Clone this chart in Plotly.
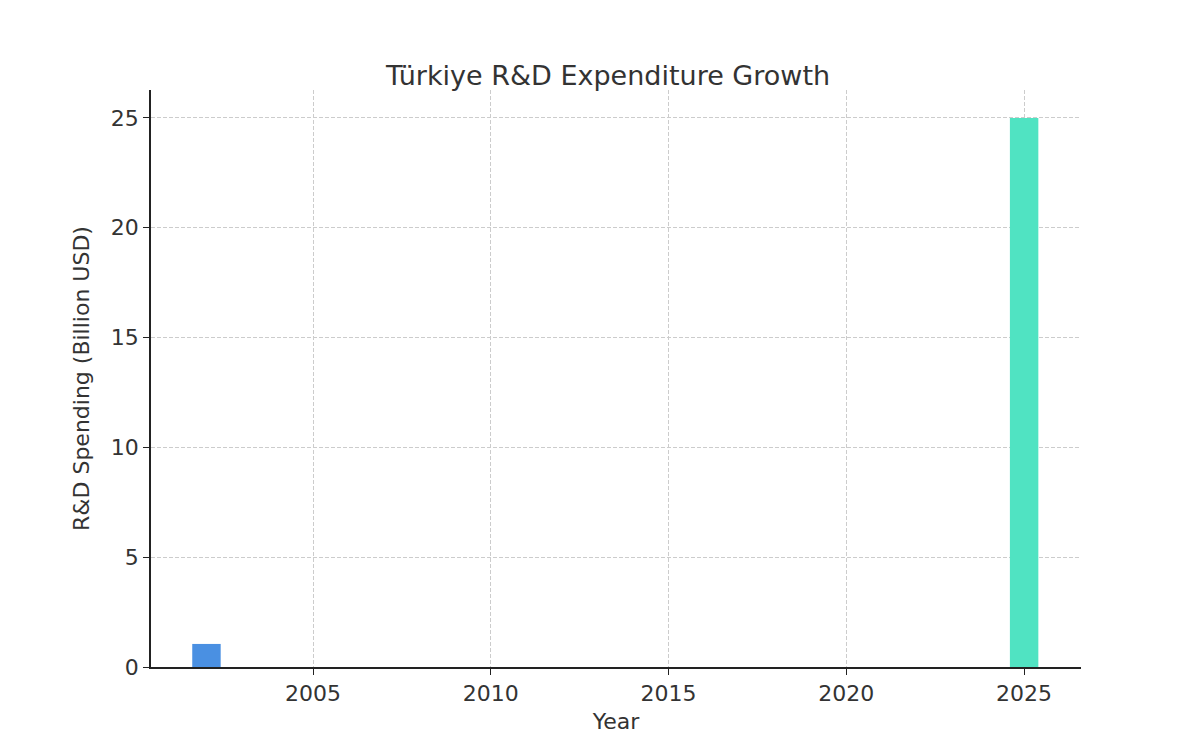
import plotly.graph_objects as go

years = [2002, 2025]
spending = [1.05, 25]
colors = ['#4a90e2', '#50e3c2']

fig = go.Figure()
fig.add_trace(go.Bar(x=years, y=spending, width=0.8, marker_color=colors,
                     marker_line_width=0))

axis_style = dict(showgrid=True, gridcolor='#cccccc', griddash='4px,2px', gridwidth=1,
                  showline=True, linecolor='#222222', linewidth=1.5,
                  ticks='outside', ticklen=6, tickcolor='#222222',
                  tickfont=dict(size=22, color='#333333'), zeroline=False)

fig.update_layout(
    width=1200, height=750,
    paper_bgcolor='white', plot_bgcolor='white',
    font=dict(family='DejaVu Sans', color='#333333'),
    title=dict(text='Türkiye R&D Expenditure Growth', x=0.5, xanchor='center',
               y=0.91, yanchor='middle', font=dict(size=27, color='#333333')),
    margin=dict(l=143, r=127, t=82, b=91),
    showlegend=False,
    xaxis=dict(axis_style, range=[2000.44, 2026.6], tickvals=[2005, 2010, 2015, 2020, 2025],
               title=dict(text='Year', font=dict(size=22), standoff=8)),
    yaxis=dict(axis_style, range=[0, 26.27], tickvals=[0, 5, 10, 15, 20, 25],
               title=dict(text='R&D Spending (Billion USD)', font=dict(size=22))),
)

fig.write_html("out.html")
